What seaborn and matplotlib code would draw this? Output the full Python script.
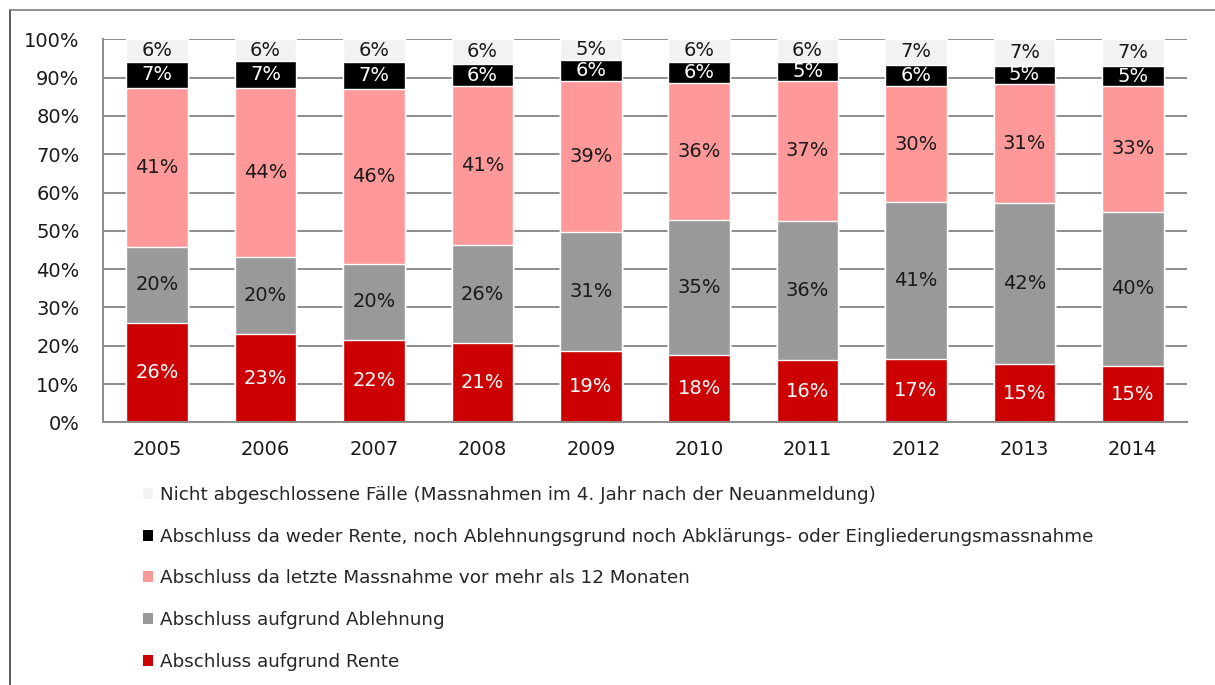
import numpy as np
import pandas as pd
import matplotlib
matplotlib.use("Agg")
import matplotlib.pyplot as plt
import seaborn as sns
from matplotlib.patches import Patch
from matplotlib.lines import Line2D

# Anteile in % pro Jahrgang (von unten nach oben gestapelt)
years = ["2005", "2006", "2007", "2008", "2009", "2010", "2011", "2012", "2013", "2014"]
rente = [25.9, 23.1, 21.6, 20.6, 18.7, 17.7, 16.3, 16.6, 15.2, 14.7]
ablehnung = [20.0, 20.1, 19.7, 25.7, 30.9, 35.2, 36.3, 40.8, 42.0, 40.3]
letzte_massnahme = [41.3, 44.0, 45.6, 41.4, 39.4, 35.7, 36.6, 30.4, 31.1, 32.8]
weder_noch = [7.0, 7.1, 7.3, 5.9, 5.6, 5.6, 4.9, 5.6, 4.8, 5.2]
nicht_abgeschlossen = [5.8, 5.7, 5.8, 6.4, 5.4, 5.8, 5.9, 6.6, 6.9, 7.0]

series_names = [
    "Abschluss aufgrund Rente",
    "Abschluss aufgrund Ablehnung",
    "Abschluss da letzte Massnahme vor mehr als 12 Monaten",
    "Abschluss da weder Rente, noch Ablehnungsgrund noch Abklärungs- oder Eingliederungsmassnahme",
    "Nicht abgeschlossene Fälle (Massnahmen im 4. Jahr nach der Neuanmeldung)",
]
colors = ["#cc0000", "#999999", "#ff9999", "#000000", "#f2f2f2"]
label_colors = ["white", "#1a1a1a", "#1a1a1a", "white", "#1a1a1a"]

df = pd.DataFrame({
    "year": years,
    series_names[0]: rente,
    series_names[1]: ablehnung,
    series_names[2]: letzte_massnahme,
    series_names[3]: weder_noch,
    series_names[4]: nicht_abgeschlossen,
})
tops = df[series_names].cumsum(axis=1)
bottoms = tops - df[series_names]

sns.set_style("white")
plt.rcParams["font.family"] = ["DejaVu Sans"]

fig = plt.figure(figsize=(12.15, 6.85), dpi=100)
ax = fig.add_axes([103 / 1215, 1 - 422.3 / 685, (1187 - 103) / 1215, (422.3 - 39.3) / 685])

# stacked bars: draw cumulative totals from top layer down
for name, col in reversed(list(zip(series_names, colors))):
    sns.barplot(x=df["year"], y=tops[name], color=col, saturation=1,
                width=0.57, errorbar=None, ax=ax, zorder=2)

for name, lc in zip(series_names, label_colors):
    for i in range(len(years)):
        val = df[name].iloc[i]
        mid = bottoms[name].iloc[i] + val / 2
        ax.text(i, mid, f"{val:.0f}%", ha="center", va="center",
                fontsize=14, color=lc, zorder=3)

grid_col = "#8c8c8c"
ax.set_ylim(0, 100)
ax.set_xlim(-0.5, len(years) - 0.5)
ax.set_yticks(np.arange(0, 101, 10))
ax.set_yticklabels([f"{v}%" for v in range(0, 101, 10)])
ax.yaxis.grid(True, color=grid_col, linewidth=1.4, zorder=0)
ax.set_axisbelow(True)
ax.set_xlabel("")
ax.set_ylabel("")

for side in ["top", "right"]:
    ax.spines[side].set_visible(False)
for side in ["left", "bottom"]:
    ax.spines[side].set_color(grid_col)
    ax.spines[side].set_linewidth(1.4)

ax.set_xticks(np.arange(-0.5, len(years), 1), minor=True)
ax.tick_params(axis="x", which="major", length=0, pad=13, labelsize=14, labelcolor="#1a1a1a")
ax.tick_params(axis="x", which="minor", length=5, width=1.4, color=grid_col, direction="out")
ax.tick_params(axis="y", which="major", length=5, width=1.4, color=grid_col, pad=12,
               labelsize=14, labelcolor="#1a1a1a")

handles = [Patch(facecolor=c, edgecolor="none", label=n)
           for n, c in reversed(list(zip(series_names, colors)))]
fig.legend(handles=handles, loc="upper left", bbox_to_anchor=(143 / 1215, 1 - 486 / 685),
           frameon=False, fontsize=13.2, handlelength=0.55, handleheight=0.55,
           handletextpad=0.35, labelspacing=1.29, borderpad=0, borderaxespad=0)

# Rahmen links und oben
fig.add_artist(Line2D([10 / 1215, 10 / 1215], [0, 1 - 10 / 685], transform=fig.transFigure,
                      color="#404040", linewidth=1.2))
fig.add_artist(Line2D([10 / 1215, 1], [1 - 10 / 685, 1 - 10 / 685], transform=fig.transFigure,
                      color="#7f7f7f", linewidth=1.2))

fig.savefig("out.png", dpi=100)
plt.close(fig)
